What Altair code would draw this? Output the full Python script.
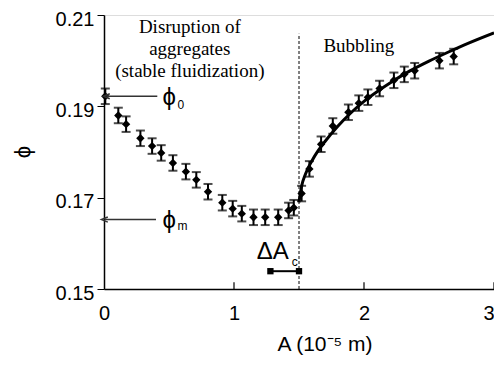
import altair as alt
import pandas as pd

# measured data (A in 1e-5 m, phi)
A_pts = [0.01, 0.11, 0.17, 0.28, 0.37, 0.44, 0.53, 0.63, 0.71, 0.80, 0.91, 0.99, 1.06,
         1.15, 1.24, 1.34, 1.42, 1.46, 1.52, 1.58, 1.67, 1.76, 1.88, 1.96, 2.03, 2.12,
         2.23, 2.31, 2.39, 2.58, 2.69]
phi_pts = [0.1922, 0.1880, 0.1861, 0.1830, 0.1813, 0.1798, 0.1776, 0.1757, 0.1739, 0.1713,
           0.1689, 0.1676, 0.1665, 0.1657, 0.1657, 0.1657, 0.1672, 0.1678, 0.1709, 0.1763,
           0.1817, 0.1857, 0.1887, 0.1907, 0.1920, 0.1939, 0.1957, 0.1970, 0.1978, 0.2000,
           0.2009]
err = 0.0017

# fitted curve in bubbling regime
A_fit = [1.50, 1.52, 1.55, 1.60, 1.65, 1.70, 1.80, 1.90, 2.00, 2.10, 2.20, 2.35, 2.50,
         2.65, 2.80, 3.00]
phi_fit = [0.1690, 0.1725, 0.1752, 0.1781, 0.1804, 0.1823, 0.1857, 0.1886, 0.1911,
           0.1932, 0.1951, 0.1977, 0.1999, 0.2019, 0.2038, 0.2061]

A_c = 1.50
phi_0 = 0.1922
phi_m = 0.1652
dA_range = [1.28, 1.50]
x_ticks = [0, 1, 2, 3]
y_ticks = [0.15, 0.17, 0.19, 0.21]
x_title = "A (10⁻⁵ m)"
y_title = "ϕ"

W, H = 390, 274

pts = pd.DataFrame({"A": A_pts, "phi": phi_pts})
pts["lo"] = pts["phi"] - err
pts["hi"] = pts["phi"] + err
fit = pd.DataFrame({"A": A_fit, "phi": phi_fit})

xs = alt.Scale(domain=[0, 3], nice=False)
ys = alt.Scale(domain=[0.15, 0.21], nice=False, zero=False)
X = lambda f="A": alt.X(f"{f}:Q", scale=xs)
Y = lambda f="phi": alt.Y(f"{f}:Q", scale=ys)

base_axes = alt.Chart(pd.DataFrame({"A": [0], "phi": [0.15]})).mark_point(opacity=0).encode(
    x=alt.X("A:Q", scale=xs,
            axis=alt.Axis(values=x_ticks, format="d", ticks=False, grid=False, title=None,
                          domainColor="black", domainWidth=1.5, labelFont="Liberation Sans",
                          labelFontSize=20, labelColor="black", labelPadding=14,
                          labelAlign=alt.expr("datum.value == 3 ? 'right' : 'center'"))),
    y=alt.Y("phi:Q", scale=ys,
            axis=alt.Axis(values=y_ticks, format=".2f", grid=False, tickSize=7, title=None,
                          tickColor="black", domainColor="black", domainWidth=1.5,
                          labelFont="Liberation Sans", labelFontSize=20, labelColor="black",
                          labelPadding=3, labelOffset=4)),
)

titles_x = alt.Chart(pd.DataFrame({"t": [x_title]})).mark_text(
    font="Liberation Sans", fontSize=21, color="black", align="center",
    baseline="middle").encode(x=alt.value(221), y=alt.value(330), text="t:N")
titles_y = alt.Chart(pd.DataFrame({"t": [y_title]})).mark_text(
    font="Liberation Sans", fontSize=22, color="black", align="center", angle=270,
    baseline="middle").encode(x=alt.value(-81), y=alt.value(137), text="t:N")

xtick_df = pd.DataFrame({"A": x_ticks[1:], "y1": [0.15] * 3, "y2": [0.1515] * 3})
xticks = alt.Chart(xtick_df).mark_rule(color="black", strokeWidth=1.2).encode(
    x=X(), y=Y("y1"), y2="y2:Q")

vline = alt.Chart(pd.DataFrame({"A": [A_c], "y1": [0.15], "y2": [0.2059]})).mark_rule(
    color="black", strokeWidth=1, strokeDash=[3, 2]).encode(x=X(), y=Y("y1"), y2="y2:Q")

curve = alt.Chart(fit).mark_line(color="black", strokeWidth=3, interpolate="monotone").encode(
    x=X(), y=Y())

bars = alt.Chart(pts).mark_rule(color="black", strokeWidth=2).encode(
    x=X(), y=Y("lo"), y2="hi:Q")
caps_lo = alt.Chart(pts).mark_tick(color="black", thickness=2, size=9, orient="horizontal").encode(
    x=X(), y=Y("lo"))
caps_hi = alt.Chart(pts).mark_tick(color="black", thickness=2, size=9, orient="horizontal").encode(
    x=X(), y=Y("hi"))
dots = alt.Chart(pts).mark_point(shape="diamond", filled=True, color="black", size=70,
                                 opacity=1).encode(x=X(), y=Y())

# arrows for phi_0 and phi_m
arr_df = pd.DataFrame({"A1": [0.41, 0.40], "A2": [0.02, 0.005], "phi": [phi_0, phi_m]})
arr_lines = alt.Chart(arr_df).mark_rule(color="#333", strokeWidth=1.5).encode(
    x=X("A1"), x2="A2:Q", y=Y())
arr_heads = alt.Chart(arr_df).mark_point(shape="M1,-0.8L-1,0L1,0.8", color="#333",
                                         strokeWidth=1.5, size=40, filled=False,
                                         opacity=1).encode(x=X("A2"), y=Y())

# Delta A_c bar
dA_df = pd.DataFrame({"A1": [dA_range[0]], "A2": [dA_range[1]], "phi": [0.1539]})
dA_line = alt.Chart(dA_df).mark_rule(color="black", strokeWidth=2).encode(
    x=X("A1"), x2="A2:Q", y=Y())
dA_ends = alt.Chart(pd.DataFrame({"A": dA_range, "phi": [0.1539] * 2})).mark_square(
    color="black", size=40, opacity=1).encode(x=X(), y=Y())

# serif annotations
serif = pd.DataFrame({
    "A": [0.66, 0.66, 0.66, 1.96],
    "phi": [0.2074, 0.2026, 0.1978, 0.2032],
    "t": ["Disruption of", "aggregates", "(stable fluidization)", "Bubbling"],
})
serif_txt = alt.Chart(serif).mark_text(font="Liberation Serif", fontSize=19, color="black",
                                       align="center", baseline="middle").encode(
    x=X(), y=Y(), text="t:N")

sym = pd.DataFrame({"A": [0.45, 0.45, 1.175], "phi": [0.1918, 0.1649, 0.1582],
                    "t": ["ϕ", "ϕ", "ΔA"]})
sym_txt = alt.Chart(sym).mark_text(font="Liberation Sans", fontSize=24, color="black",
                                   align="left", baseline="middle").encode(
    x=X(), y=Y(), text="t:N")
sub = pd.DataFrame({"A": [0.565, 0.565, 1.445], "phi": [0.1903, 0.1638, 0.1560],
                    "t": ["0", "m", "c"]})
sub_txt = alt.Chart(sub).mark_text(font="Liberation Sans", fontSize=12, color="black",
                                   align="left", baseline="middle").encode(
    x=X(), y=Y(), text="t:N")

chart = alt.layer(base_axes, xticks, vline, curve, bars, caps_lo, caps_hi, dots,
                  arr_lines, arr_heads, dA_line, dA_ends, serif_txt, sym_txt, sub_txt,
                  titles_x, titles_y).properties(
    width=W, height=H,
    autosize=alt.AutoSizeParams(type="none"),
    padding={"left": 96, "top": 7, "right": 0, "bottom": 67},
).configure_view(stroke=None).configure(background="white")

chart.save("out.html", embed_options={"renderer": "svg", "actions": False})
